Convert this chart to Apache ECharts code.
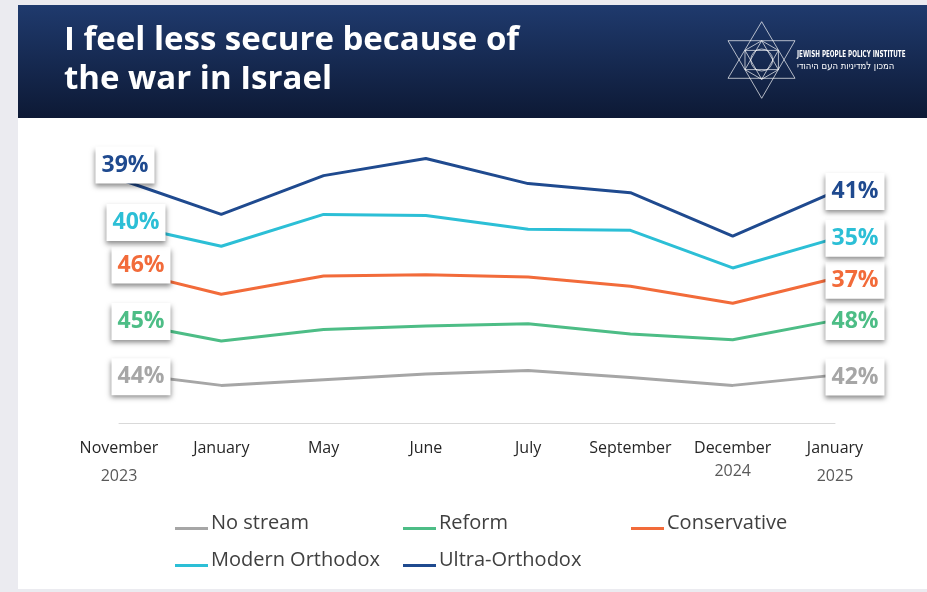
<!DOCTYPE html>
<html>
<head>
<meta charset="utf-8">
<title>I feel less secure because of the war in Israel</title>
<script src="https://cdn.jsdelivr.net/npm/echarts@6/dist/echarts.min.js"></script>
<style>
  html, body { margin: 0; padding: 0; background: #ebebf0; }
  #chart { width: 927px; height: 592px; }
</style>
</head>
<body>
<div id="chart"></div>
<script>
// Survey waves (month / year tick labels)
const months = ['November', 'January', 'May', 'June', 'July', 'September', 'December', 'January'];
const years = ['2023', '', '', '', '', '', '2024', '2025'];

// Share (%) agreeing, by religious stream
const noStream = [44, 33, 38, 43, 46, 40, 33, 42];
const reform = [45, 39, 44, 42, 41, 38, 40, 48];
const conservative = [46, 41, 47, 45, 41, 42, 32, 37];
const modernOrthodox = [40, 42, 54, 52, 42, 49, 31, 35];
const ultraOrthodox = [39, 28, 34, 50, 40, 33, 28, 41];

const streamNames = ['No stream', 'Reform', 'Conservative', 'Modern Orthodox', 'Ultra-Orthodox'];
const streamValues = [noStream, reform, conservative, modernOrthodox, ultraOrthodox];

// Styling
const colors = ['#a6a6a6', '#4dbd86', '#f26b3a', '#2cbfd6', '#1f4a8f'];
const firstLabelOffset = [[22, 4], [22, 0], [22, -4], [17, -1], [6, -14]];
const lastLabelOffset = [[20, 2], [20, 1], [20, 2], [20, 0], [20, 0]];

const chart = echarts.init(document.getElementById('chart'), null, { renderer: 'canvas' });

function endLabel(color, offset) {
  return {
    show: true,
    position: 'inside',
    offset: offset,
    formatter: '{c}%',
    color: color,
    fontFamily: 'Open Sans',
    fontWeight: 'bold',
    fontSize: 23,
    lineHeight: 26,
    backgroundColor: '#ffffff',
    padding: [6, 6, 5, 6],
    shadowColor: 'rgba(0,0,0,0.45)',
    shadowBlur: 5,
    shadowOffsetX: 0,
    shadowOffsetY: 3
  };
}

const series = streamNames.map((name, s) => {
  const vals = streamValues[s];
  const last = vals.length - 1;
  return {
    name: name,
    type: 'line',
    stack: 'streams',
    data: vals.map((v, i) => {
      if (i === 0) return { value: v, label: endLabel(colors[s], firstLabelOffset[s]) };
      if (i === last) return { value: v, label: endLabel(colors[s], lastLabelOffset[s]) };
      return v;
    }),
    color: colors[s],
    lineStyle: { width: 3, color: colors[s] },
    symbol: 'circle',
    symbolSize: 0,
    showSymbol: true,
    label: { show: false },
    emphasis: { disabled: true },
    z: 2 + s
  };
});

// Star-of-David emblem for the header
const cx = 761.7, cy = 60;
const starUp = [[cx, 21.7], [795, 78.3], [728, 78.3]];
const starDown = [[728, 40.7], [795, 40.7], [cx, 98.3]];
const hex = [];
for (let k = 0; k < 6; k++) {
  const a = Math.PI / 6 + k * Math.PI / 3;
  hex.push([cx + 19.3 * Math.cos(a), cy + 19.3 * Math.sin(a)]);
}
const innerUp = [[cx, cy - 19.3], [cx + 16.7, cy + 9.6], [cx - 16.7, cy + 9.6]];
const innerDown = [[cx - 16.7, cy - 9.6], [cx + 16.7, cy - 9.6], [cx, cy + 19.3]];
const lineStroke = { fill: null, stroke: 'rgba(255,255,255,0.85)', lineWidth: 0.8 };

const option = {
  animation: false,
  backgroundColor: '#ebebf0',
  graphic: [
    { type: 'rect', shape: { x: 18, y: 118, width: 909, height: 471 }, style: { fill: '#ffffff' }, z: -10 },
    {
      type: 'rect', shape: { x: 18, y: 5, width: 909, height: 113 }, z: -9,
      style: {
        fill: new echarts.graphic.LinearGradient(0, 0, 0, 1, [
          { offset: 0, color: '#1f3a6d' },
          { offset: 1, color: '#0d1935' }
        ])
      }
    },
    {
      type: 'text', left: 64, top: 21,
      style: {
        text: 'I feel less secure because of\nthe war in Israel',
        fill: '#ffffff',
        font: 'bold 33px "Open Sans"',
        lineHeight: 39
      }
    },
    { type: 'polygon', shape: { points: starUp }, style: lineStroke },
    { type: 'polygon', shape: { points: starDown }, style: lineStroke },
    { type: 'polygon', shape: { points: hex }, style: lineStroke },
    { type: 'polygon', shape: { points: innerUp }, style: lineStroke },
    { type: 'polygon', shape: { points: innerDown }, style: lineStroke },
    { type: 'circle', shape: { cx: cx, cy: cy, r: 11 }, style: lineStroke },
    {
      type: 'text', x: 797, y: 55, scaleX: 0.66,
      style: {
        text: 'JEWISH PEOPLE POLICY INSTITUTE',
        fill: '#ffffff',
        font: 'bold 8.5px "DejaVu Sans"',
        verticalAlign: 'middle'
      }
    },
    {
      type: 'text', x: 797, y: 66, scaleX: 0.85,
      style: {
        text: 'המכון למדיניות העם היהודי',
        fill: '#ffffff',
        font: '10px "DejaVu Sans"',
        verticalAlign: 'middle'
      }
    }
  ],
  legend: {
    left: 175,
    top: 505,
    width: 710,
    padding: 0,
    orient: 'horizontal',
    itemWidth: 33,
    itemHeight: 14,
    itemGap: 0,
    icon: 'path://M0,0h33v0.01h-33zM0,10h33v3h-33z',
    itemStyle: { borderWidth: 0 },
    textStyle: {
      fontFamily: 'Open Sans',
      fontSize: 20,
      color: '#404040',
      width: 192,
      lineHeight: 37,
      padding: [0, 0, 0, -2]
    },
    data: streamNames
  },
  grid: { left: 119, right: 92, top: 138, bottom: 169, containLabel: false },
  xAxis: {
    type: 'category',
    boundaryGap: false,
    data: months.map((m, i) => m + '\n' + years[i]),
    axisLine: { show: true, lineStyle: { color: '#d9d9d9', width: 1 } },
    axisTick: { show: false },
    splitLine: { show: false },
    axisLabel: {
      interval: 0,
      margin: 13,
      formatter: function (val, idx) {
        const parts = val.split('\n');
        let s = '{m|' + parts[0] + '}';
        if (parts[1]) s += '\n{' + (idx === 6 ? 'yd' : 'y') + '|' + parts[1] + '}';
        return s;
      },
      rich: {
        m: { fontFamily: 'Open Sans', fontSize: 16, color: '#262626', lineHeight: 24 },
        y: { fontFamily: 'Open Sans', fontSize: 16, color: '#595959', lineHeight: 32 },
        yd: { fontFamily: 'Open Sans', fontSize: 16, color: '#595959', lineHeight: 22 }
      }
    }
  },
  yAxis: {
    type: 'value',
    min: 0,
    max: 250,
    show: false,
    splitLine: { show: false }
  },
  series: series
};

chart.setOption(option);
</script>
</body>
</html>
